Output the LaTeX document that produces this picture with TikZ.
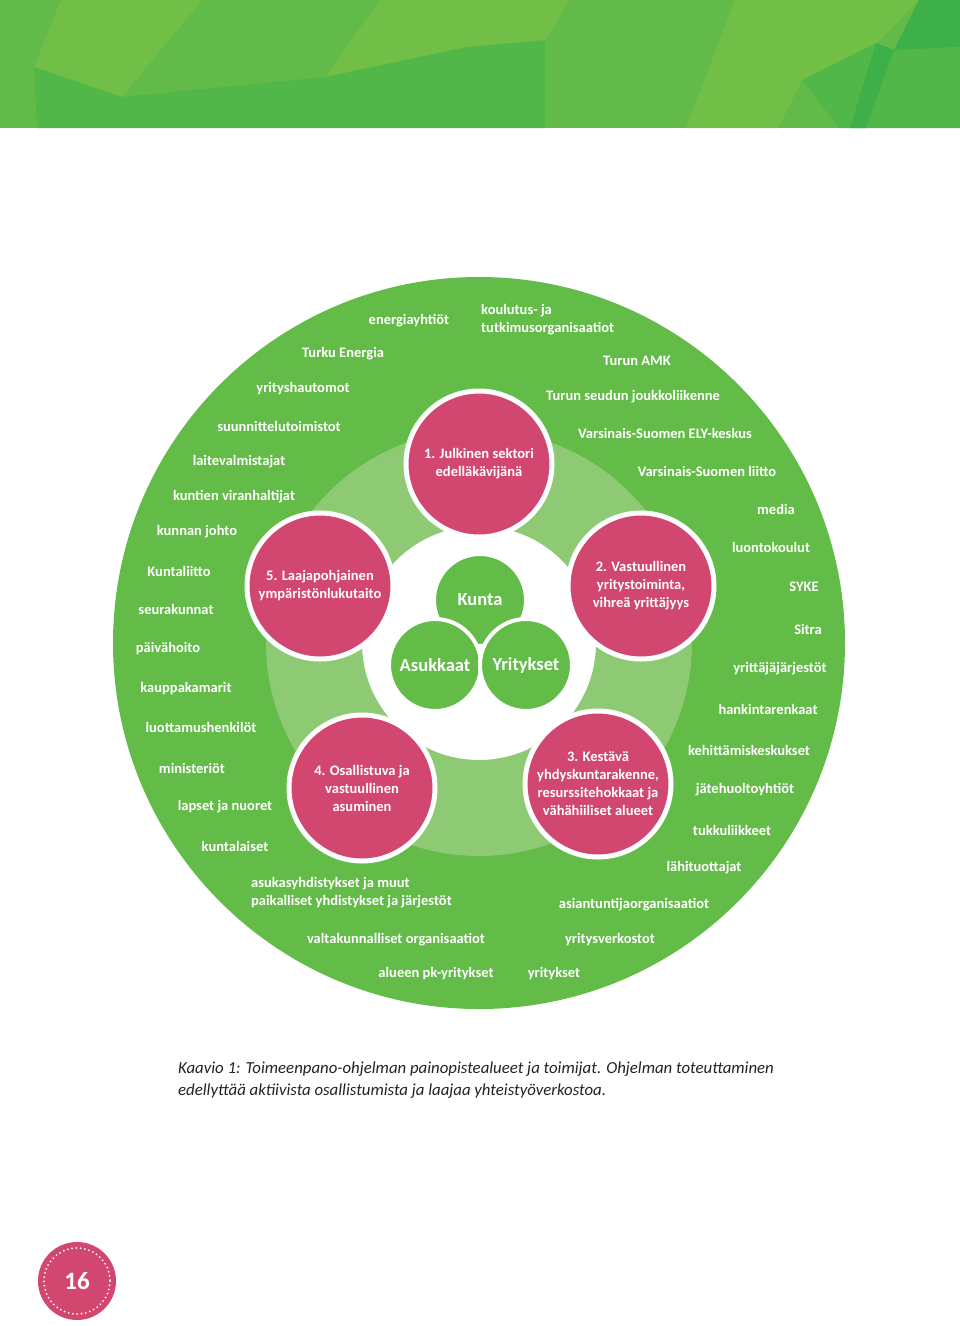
\documentclass[tikz,border=0pt]{standalone}
\usepackage{fontspec}
\setmainfont{Carlito}
\usepackage{xcolor}
\usetikzlibrary{positioning}

\definecolor{ringgreen}{RGB}{99,187,72}
\definecolor{lightgreen}{RGB}{142,201,115}
\definecolor{focuspink}{RGB}{210,71,111}
\definecolor{bannerA}{RGB}{98,187,72}
\definecolor{bannerB}{RGB}{114,191,72}
\definecolor{bannerC}{RGB}{82,183,73}
\definecolor{bannerD}{RGB}{62,176,74}
\definecolor{captiongray}{RGB}{35,35,35}

\begin{document}
\begin{tikzpicture}[
  x=1pt, y=-1pt,
  actor/.style={text=white, inner sep=0pt, font=\fontsize{14.5}{18}\selectfont\bfseries},
  focus/.style={circle, fill=focuspink, draw=white, line width=5pt, minimum size=146pt,
    inner sep=0pt, align=center, text=white, font=\fontsize{14.5}{18}\selectfont\bfseries},
  core/.style={circle, fill=ringgreen, draw=white, line width=4pt, minimum size=92pt,
    inner sep=0pt, text=white, font=\fontsize{18.5}{20}\selectfont\bfseries}
]
\useasboundingbox (0,0) rectangle (960,1326);
\fill[white] (0,0) rectangle (960,1326);

% Banner
\fill[bannerA] (0,0) rectangle (960,128);
\fill[bannerB] (61,0) -- (202,0) -- (122,97) -- (34,67) -- cycle;
\fill[bannerC] (34,67) -- (122,97) -- (141,128) -- (37,128) -- cycle;
\fill[bannerC] (122,97) -- (325,77) -- (466,47) -- (545,40) -- (545,128) -- (141,128) -- cycle;
\fill[bannerB] (380,0) -- (570,0) -- (545,40) -- (466,47) -- (325,77) -- cycle;
\fill[bannerB] (735,0) -- (919,0) -- (876,43) -- (802,80) -- (778,128) -- (686,128) -- cycle;
\fill[bannerC] (876,43) -- (894,50) -- (960,47) -- (960,128) -- (839,128) -- (802,80) -- cycle;
\fill[bannerD] (919,0) -- (960,0) -- (960,47) -- (894,50) -- cycle;
\fill[bannerD] (850,128) -- (876,43) -- (894,50) -- (866,128) -- cycle;

% Disc and ring
\node[circle, fill=ringgreen, minimum size=732pt, inner sep=0pt] (disc) at (479,643) {};
\node[circle, fill=white, draw=lightgreen, line width=96pt, minimum size=330pt, inner sep=0pt] (ring) at (479,643) {};

% Focus areas
\node[focus] (f1) at (479,464) {1. Julkinen sektori\\edelläkävijänä};
\node[focus] (f2) at (641,586) {2. Vastuullinen\\yritystoiminta,\\vihreä yrittäjyys};
\node[focus] (f3) at (598,784) {3. Kestävä\\yhdyskuntarakenne,\\resurssitehokkaat ja\\vähähiiliset alueet};
\node[focus] (f4) at (362,788) {4. Osallistuva ja\\vastuullinen\\asuminen};
\node[focus] (f5) at (320,586) {5. Laajapohjainen\\ympäristönlukutaito};

% Core
\node[core] (kunta) at (480,600) {Kunta};
\node[core] (asukkaat) at (435,665) {Asukkaat};
\node[core] (yritykset) at (526,665) {Yritykset};

% Actors, left side
\node[actor] (energia) at (409,321) {energiayhtiöt};
\node[actor] (turkuen) at (343,354) {Turku Energia};
\node[actor] (hautomot) at (303,389) {yrityshautomot};
\node[actor] (suunn) at (279,426) {suunnittelutoimistot};
\node[actor] (laite) at (239,462) {laitevalmistajat};
\node[actor] (viran) at (234,497) {kuntien viranhaltijat};
\node[actor] (johto) at (197,532) {kunnan johto};
\node[actor] (kliitto) at (179,571) {Kuntaliitto};
\node[actor] (seurak) at (176,609) {seurakunnat};
\node[actor] (paiva) at (168,649) {päivähoito};
\node[actor] (kauppa) at (186,689) {kauppakamarit};
\node[actor] (luott) at (201,727) {luottamushenkilöt};
\node[actor] (minist) at (192,768) {ministeriöt};
\node[actor] (lapset) at (225,807) {lapset ja nuoret};
\node[actor] (kuntal) at (235,846) {kuntalaiset};

% Actors, right side
\node[actor, anchor=west, align=left] (koulutus) at (481,320) {koulutus- ja\\tutkimusorganisaatiot};
\node[actor] (amk) at (637,361) {Turun AMK};
\node[actor] (joukko) at (633,397) {Turun seudun joukkoliikenne};
\node[actor] (ely) at (665,433) {Varsinais-Suomen ELY-keskus};
\node[actor] (vsliitto) at (707,471) {Varsinais-Suomen liitto};
\node[actor] (media) at (776,509) {media};
\node[actor] (luonto) at (771,547) {luontokoulut};
\node[actor] (syke) at (804,587) {SYKE};
\node[actor] (sitra) at (808,629) {Sitra};
\node[actor] (yrittaja) at (780,669) {yrittäjäjärjestöt};
\node[actor] (hankinta) at (768,709) {hankintarenkaat};
\node[actor] (kehitys) at (749,750) {kehittämiskeskukset};
\node[actor] (jate) at (745,790) {jätehuoltoyhtiöt};
\node[actor] (tukku) at (732,830) {tukkuliikkeet};
\node[actor] (lahi) at (704,868) {lähituottajat};

% Actors, bottom
\node[actor, anchor=west, align=left] (asukasy) at (251,893) {asukasyhdistykset ja muut\\paikalliset yhdistykset ja järjestöt};
\node[actor] (asiant) at (634,905) {asiantuntijaorganisaatiot};
\node[actor] (valtak) at (396,940) {valtakunnalliset organisaatiot};
\node[actor] (verkost) at (610,940) {yritysverkostot};
\node[actor] (pkyr) at (436,974) {alueen pk-yritykset};
\node[actor] (yrit) at (554,974) {yritykset};

% Caption
\node[anchor=west, align=left, inner sep=0pt, text=captiongray,
  font=\fontsize{16.8}{22}\selectfont\itshape] (caption) at (178,1080)
  {Kaavio 1: Toimeenpano-ohjelman painopistealueet ja toimijat. Ohjelman toteuttaminen\\edellyttää aktiivista osallistumista ja laajaa yhteistyöverkostoa.};

% Page number
\node[circle, fill=focuspink, minimum size=78pt, inner sep=0pt, text=white,
  font=\fontsize{25}{27}\selectfont\bfseries] (page) at (77,1281) {16};
\draw[white, line width=2pt, line cap=round, dash pattern=on 0pt off 4.3pt] (page.center) circle (33);

\end{tikzpicture}
\end{document}
